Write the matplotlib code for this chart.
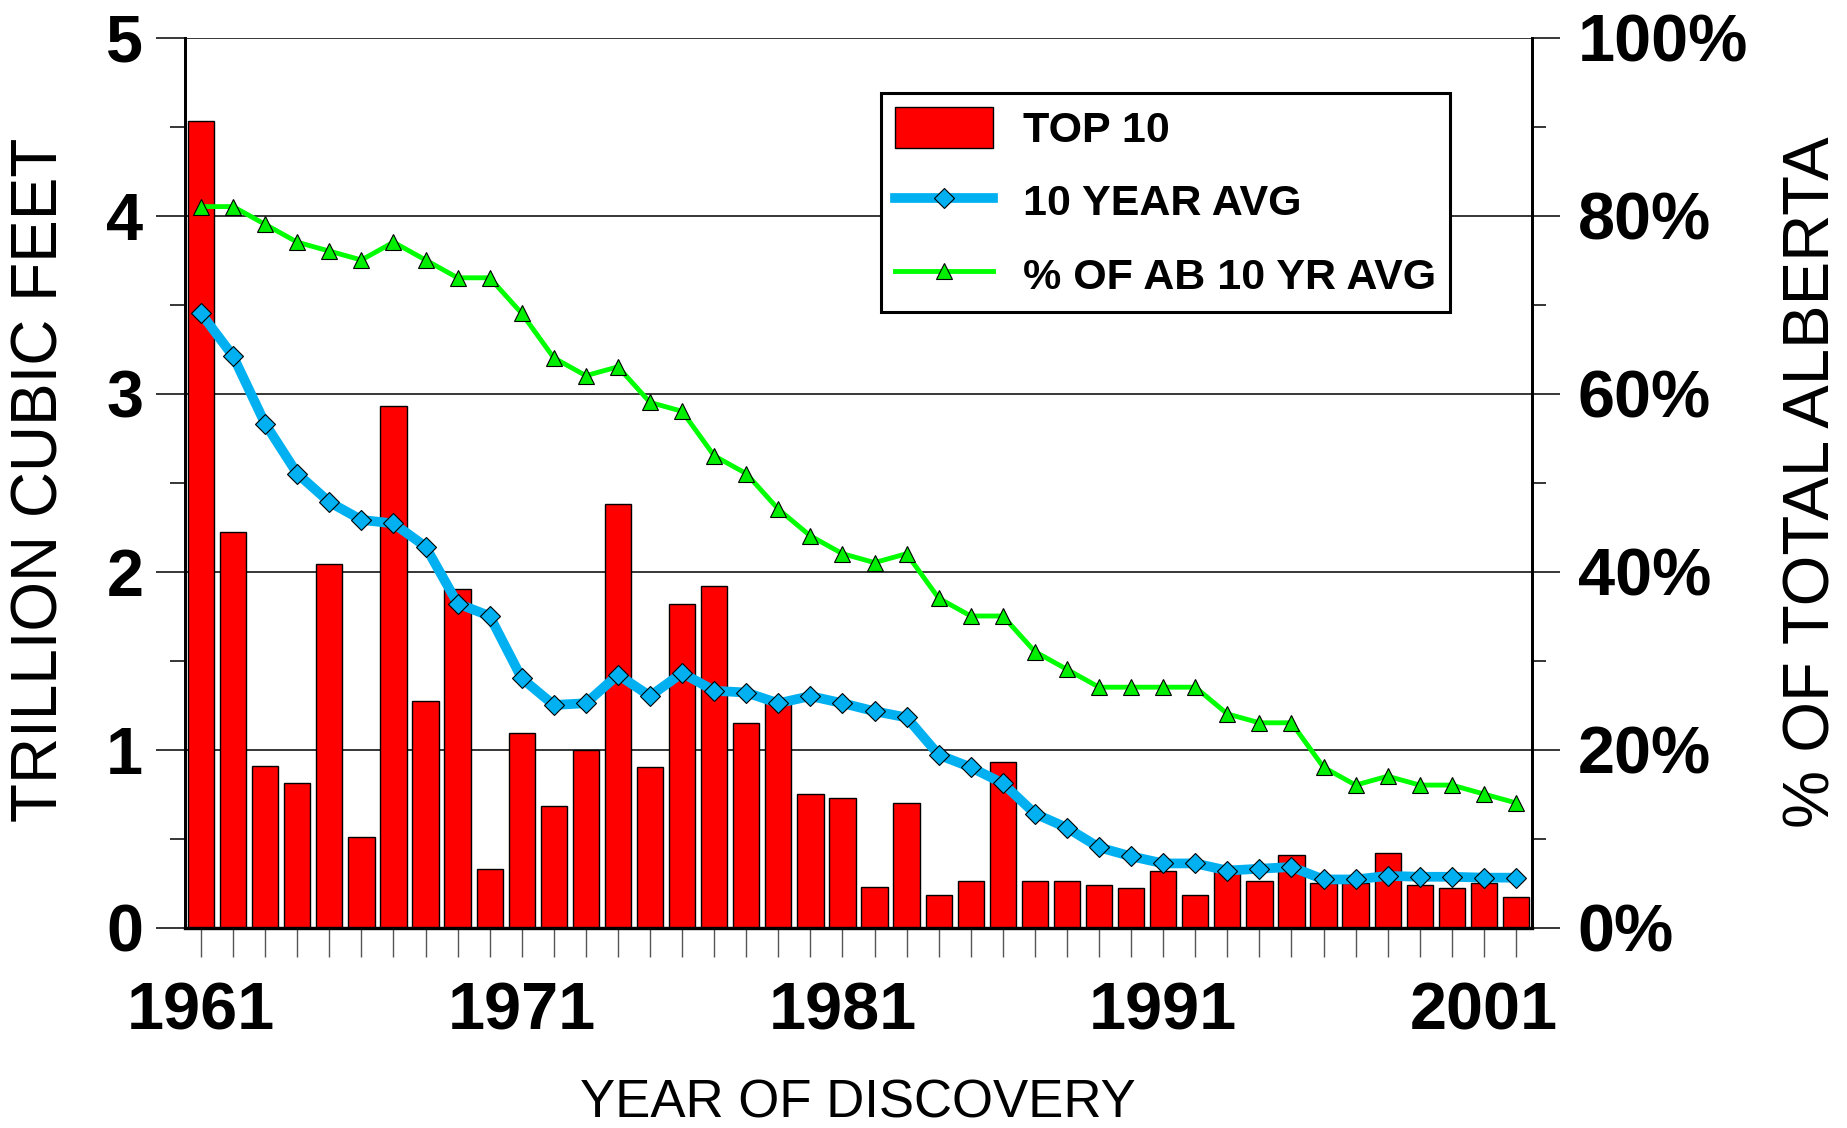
import matplotlib
matplotlib.use('Agg')
import matplotlib.pyplot as plt
from matplotlib.patches import Patch
from matplotlib.lines import Line2D

years = list(range(1961, 2003))
top10 = [4.53, 2.22, 0.91, 0.81, 2.04, 0.51, 2.93, 1.27, 1.90, 0.33,
         1.09, 0.68, 1.00, 2.38, 0.90, 1.82, 1.92, 1.15, 1.27, 0.75,
         0.73, 0.23, 0.70, 0.18, 0.26, 0.93, 0.26, 0.26, 0.24, 0.22,
         0.32, 0.18, 0.32, 0.26, 0.41, 0.25, 0.25, 0.42, 0.24, 0.22,
         0.25, 0.17]
avg10 = [3.45, 3.21, 2.83, 2.55, 2.39, 2.29, 2.27, 2.14, 1.82, 1.75,
         1.40, 1.25, 1.26, 1.42, 1.30, 1.43, 1.33, 1.32, 1.26, 1.30,
         1.26, 1.215, 1.18, 0.97, 0.90, 0.81, 0.64, 0.56, 0.45, 0.40,
         0.36, 0.36, 0.32, 0.33, 0.34, 0.27, 0.27, 0.29, 0.285, 0.285,
         0.28, 0.28]
pct_ab = [81, 81, 79, 77, 76, 75, 77, 75, 73, 73,
          69, 64, 62, 63, 59, 58, 53, 51, 47, 44,
          42, 41, 42, 37, 35, 35, 31, 29, 27, 27,
          27, 27, 24, 23, 23, 18, 16, 17, 16, 16,
          15, 14]
year_labels = [str(y) if (y - 1961) % 10 == 0 else '' for y in years]
left_ticks = [0, 1, 2, 3, 4, 5]
right_ticks = [0, 20, 40, 60, 80, 100]
right_labels = ['%d%%' % v for v in right_ticks]

plt.rcParams['font.family'] = ['Liberation Sans', 'DejaVu Sans']

fig = plt.figure(figsize=(18.47, 11.28), dpi=100)
ax = fig.add_axes([185/1847, 1-927.5/1128, 1347/1847, 890/1128])
ax2 = ax.twinx()

ax.set_axisbelow(True)
ax.bar(years, top10, width=0.82, color='#ff0000', edgecolor='black', linewidth=1, zorder=2)
ax.plot(years, avg10, color='#00b0f0', lw=7, marker='D', ms=10,
        markerfacecolor='#00b0f0', markeredgecolor='black', markeredgewidth=0.8, zorder=3)
ax2.plot(years, pct_ab, color='#00ff00', lw=3.5, marker='^', ms=12,
         markerfacecolor='#00ee00', markeredgecolor='black', markeredgewidth=0.8, zorder=3)

ax.set_xlim(1960.5, 2002.5)
ax.set_ylim(0, 5)
ax2.set_ylim(0, 100)

ax.set_yticks(left_ticks)
ax.set_yticklabels([str(v) for v in left_ticks])
ax.set_yticks([0.5, 1.5, 2.5, 3.5, 4.5], minor=True)
ax2.set_yticks(right_ticks)
ax2.set_yticklabels(right_labels)
ax2.set_yticks([10, 30, 50, 70, 90], minor=True)
ax.set_xticks(years)
ax.set_xticklabels(year_labels)

ax.yaxis.grid(True, which='major', color='black', lw=1.1)
ax.tick_params(axis='y', which='major', length=21, width=1.1, pad=9, labelsize=48, direction='out')
ax.tick_params(axis='y', which='minor', length=10.5, width=1.1, direction='out')
ax.tick_params(axis='x', length=21, width=1, color='#555555', pad=18, labelsize=48)
ax2.tick_params(axis='y', which='major', length=20, width=1.1, pad=13, labelsize=48, direction='out')
ax2.tick_params(axis='y', which='minor', length=10, width=1.1, direction='out')
for lab in ax.get_xticklabels() + ax.get_yticklabels() + ax2.get_yticklabels():
    lab.set_fontweight('bold')

for a in (ax, ax2):
    a.spines['top'].set_visible(False)
    a.spines['left'].set_linewidth(2)
    a.spines['right'].set_linewidth(2)
    a.spines['bottom'].set_linewidth(2.3)

fig.text(41/1847, 1-480/1128, 'TRILLION CUBIC FEET', rotation=90, ha='center', va='center', fontsize=46)
fig.text(1812/1847, 1-482/1128, '% OF TOTAL ALBERTA', rotation=90, ha='center', va='center', fontsize=47)
fig.text(858/1847, 1-1104/1128, 'YEAR OF DISCOVERY', ha='center', va='center', fontsize=38)

handles = [Patch(facecolor='#ff0000', edgecolor='black', linewidth=1),
           Line2D([], [], color='#00b0f0', lw=7, marker='D', ms=10,
                  markerfacecolor='#00b0f0', markeredgecolor='black', markeredgewidth=0.8),
           Line2D([], [], color='#00ff00', lw=3.5, marker='^', ms=12,
                  markerfacecolor='#00ee00', markeredgecolor='black', markeredgewidth=0.8)]
labels = ['TOP 10', '10 YEAR AVG', '% OF AB 10 YR AVG']
leg = ax2.legend(handles, labels, loc='upper left',
                 bbox_to_anchor=((881-185)/1347, (927.5-93)/890),
                 borderaxespad=0, fancybox=False, framealpha=1, edgecolor='black',
                 handlelength=2.28, handleheight=1.09, labelspacing=0.68, handletextpad=0.7,
                 borderpad=0.32, numpoints=1,
                 prop={'weight': 'bold', 'size': 31})
leg.get_frame().set_linewidth(2.2)

fig.savefig('out.png', dpi=100)
